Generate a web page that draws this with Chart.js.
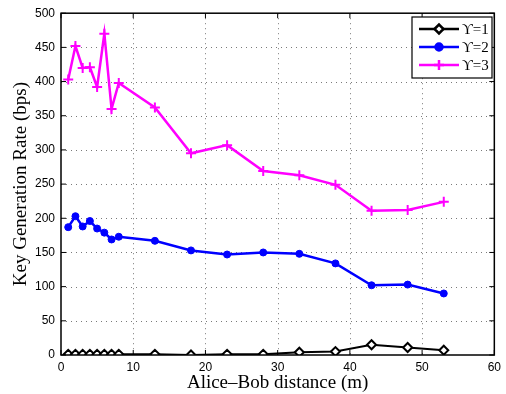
<!DOCTYPE html>
<html>
<head>
<meta charset="utf-8">
<script src="https://cdn.jsdelivr.net/npm/chart.js@4"></script>
<style>
  body { margin: 0; background: #fff; }
  #wrap { width: 506px; height: 394px; }
</style>
</head>
<body>
<div id="wrap"><canvas id="c"></canvas></div>
<script>
const distances = [1, 2, 3, 4, 5, 6, 7, 8, 13, 18, 23, 28, 33, 38, 43, 48, 53];
const rateU1 = [1, 1, 1, 1, 1, 1, 1, 1, 1, 0, 1, 1, 4, 5, 15, 11, 7];
const rateU2 = [187, 203, 188, 196, 185, 179, 169, 173, 167, 153, 147, 150, 148, 134, 102, 103, 90];
const rateU3 = [403, 452, 420, 421, 392, 470, 360, 398, 362, 295, 307, 269, 263, 249, 211, 212, 224];
const seriesNames = ['ϒ=1', 'ϒ=2', 'ϒ=3'];
const xTicks = [0, 10, 20, 30, 40, 50, 60];
const yTicks = [0, 50, 100, 150, 200, 250, 300, 350, 400, 450, 500];

function pts(vals) {
  return distances.map((d, i) => ({ x: d, y: vals[i] }));
}

// dotted grid drawn under the data
const gridPlugin = {
  id: 'dotgrid',
  beforeDatasetsDraw(chart) {
    const ctx = chart.ctx;
    const a = chart.chartArea;
    const xs = chart.scales.x, ys = chart.scales.y;
    ctx.save();
    ctx.strokeStyle = '#7a7a7a';
    ctx.lineWidth = 1;
    ctx.setLineDash([1, 4]);
    ctx.beginPath();
    xTicks.slice(1, -1).forEach(v => {
      const px = Math.round(xs.getPixelForValue(v)) + 0.5;
      ctx.moveTo(px, a.top); ctx.lineTo(px, a.bottom);
    });
    yTicks.slice(1, -1).forEach(v => {
      const py = Math.round(ys.getPixelForValue(v)) + 0.5;
      ctx.moveTo(a.left, py); ctx.lineTo(a.right, py);
    });
    ctx.stroke();
    ctx.restore();
  }
};

// frame, inward ticks and boxed legend like the original figure
const framePlugin = {
  id: 'frame',
  afterDraw(chart) {
    const ctx = chart.ctx;
    const a = chart.chartArea;
    const xs = chart.scales.x, ys = chart.scales.y;
    ctx.save();
    ctx.strokeStyle = '#000';
    ctx.lineWidth = 1.5;
    ctx.strokeRect(a.left, a.top, a.right - a.left, a.bottom - a.top);
    ctx.lineWidth = 1;
    ctx.beginPath();
    xTicks.forEach(v => {
      const px = xs.getPixelForValue(v);
      ctx.moveTo(px, a.bottom); ctx.lineTo(px, a.bottom - 5);
      ctx.moveTo(px, a.top); ctx.lineTo(px, a.top + 5);
    });
    yTicks.forEach(v => {
      const py = ys.getPixelForValue(v);
      ctx.moveTo(a.left, py); ctx.lineTo(a.left + 5, py);
      ctx.moveTo(a.right, py); ctx.lineTo(a.right - 5, py);
    });
    ctx.stroke();

    // legend
    const lx = 412, ly = 17, lw = 80, lh = 61;
    ctx.fillStyle = '#fff';
    ctx.fillRect(lx, ly, lw, lh);
    ctx.strokeStyle = '#000';
    ctx.lineWidth = 1.2;
    ctx.strokeRect(lx, ly, lw, lh);
    chart.data.datasets.forEach((ds, i) => {
      const y = ly + 12 + i * 18;
      ctx.strokeStyle = ds.borderColor;
      ctx.lineWidth = 2.5;
      ctx.beginPath();
      ctx.moveTo(lx + 7, y); ctx.lineTo(lx + 47, y);
      ctx.stroke();
      ctx.fillStyle = ds.pointBackgroundColor || '#fff';
      ctx.strokeStyle = ds.pointBorderColor;
      Chart.helpers.drawPoint(ctx, {
        pointStyle: ds.pointStyle,
        radius: ds.pointRadius,
        borderWidth: ds.pointBorderWidth
      }, lx + 27, y);
      ctx.fillStyle = '#000';
      ctx.font = '15px "Liberation Serif"';
      ctx.textBaseline = 'middle';
      ctx.textAlign = 'left';
      ctx.fillText(seriesNames[i], lx + 50, y + 1);
    });
    ctx.restore();
  }
};

new Chart(document.getElementById('c'), {
  type: 'line',
  data: {
    datasets: [
      {
        label: seriesNames[0], data: pts(rateU1),
        borderColor: '#000', backgroundColor: '#fff',
        pointStyle: 'rectRot', pointRadius: 4.5, pointBorderWidth: 2,
        pointBackgroundColor: '#fff', pointBorderColor: '#000',
        borderWidth: 2, tension: 0
      },
      {
        label: seriesNames[1], data: pts(rateU2),
        borderColor: '#0000ff', backgroundColor: '#0000ff',
        pointStyle: 'circle', pointRadius: 3.5, pointBorderWidth: 1,
        pointBackgroundColor: '#0000ff', pointBorderColor: '#0000ff',
        borderWidth: 2.5, tension: 0
      },
      {
        label: seriesNames[2], data: pts(rateU3),
        borderColor: '#ff00ff', backgroundColor: '#ff00ff',
        pointStyle: 'cross', pointRadius: 5, pointBorderWidth: 2,
        pointBackgroundColor: '#ff00ff', pointBorderColor: '#ff00ff',
        borderWidth: 2.5, tension: 0
      }
    ]
  },
  options: {
    responsive: true,
    maintainAspectRatio: false,
    animation: false,
    layout: { padding: { left: 10, top: 11, right: 7, bottom: 0 } },
    plugins: { legend: { display: false }, tooltip: { enabled: false } },
    scales: {
      x: {
        type: 'linear', min: 0, max: 60,
        afterBuildTicks: s => { s.ticks = xTicks.map(v => ({ value: v })); },
        afterFit: s => { s.height = 39; },
        grid: { display: false, drawTicks: false },
        border: { display: false },
        ticks: { color: '#000', font: { family: 'Liberation Sans', size: 12 }, padding: 5, maxRotation: 0 },
        title: { display: true, text: 'Alice\u2013Bob distance (m)', color: '#000',
                 font: { family: 'Liberation Serif', size: 19 }, padding: { top: -1, bottom: 0 } }
      },
      y: {
        type: 'linear', min: 0, max: 500,
        afterBuildTicks: s => { s.ticks = yTicks.map(v => ({ value: v })); },
        afterFit: s => { s.width = 51; },
        grid: { display: false, drawTicks: false },
        border: { display: false },
        ticks: { color: '#000', font: { family: 'Liberation Sans', size: 12 }, padding: 6 },
        title: { display: true, text: 'Key Generation Rate (bps)', color: '#000',
                 font: { family: 'Liberation Serif', size: 19 }, padding: { top: 0, bottom: 4 } }
      }
    }
  },
  plugins: [gridPlugin, framePlugin]
});
</script>
</body>
</html>
